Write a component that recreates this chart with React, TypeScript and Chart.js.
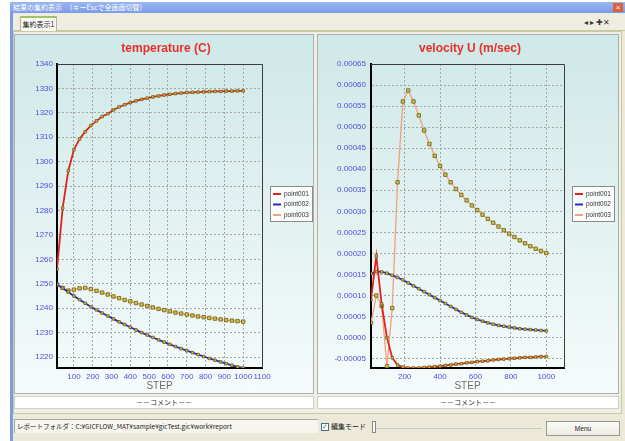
import React, { useEffect, useRef } from "react";
import { Chart, registerables } from "chart.js";

Chart.register(...registerables);

// ---------- data ----------
const steps = [10, 40, 70, 100, 130, 160, 190, 220, 250, 280, 310, 340, 370, 400, 430, 460, 490, 520, 550, 580, 610, 640, 670, 700, 730, 760, 790, 820, 850, 880, 910, 940, 970, 1000];

const seriesNames = ["point001", "point002", "point003"];
const seriesColors = ["#e4221d", "#2a2ac4", "#f3a07c"];

const tempPoint001 = [1256.0, 1281.0, 1296.3, 1304.9, 1309.3, 1312.3, 1314.8, 1316.7, 1318.5, 1319.6, 1321.2, 1322.4, 1323.3, 1324.2, 1324.9, 1325.5, 1326.0, 1326.5, 1326.9, 1327.3, 1327.6, 1327.9, 1328.1, 1328.3, 1328.4, 1328.5, 1328.6, 1328.7, 1328.8, 1328.8, 1328.9, 1328.9, 1329.0, 1329.0];
const tempPoint002 = [1249.7, 1248.2, 1246.6, 1245.0, 1243.5, 1242.0, 1240.6, 1239.3, 1238.0, 1236.8, 1235.6, 1234.4, 1233.3, 1232.2, 1231.1, 1230.0, 1229.0, 1228.0, 1227.0, 1226.1, 1225.2, 1224.3, 1223.4, 1222.6, 1221.8, 1221.0, 1220.2, 1219.4, 1218.7, 1218.0, 1217.3, 1216.6, 1216.0, 1215.5];
const tempPoint003 = [1249.7, 1248.3, 1247.2, 1247.6, 1248.1, 1248.3, 1247.8, 1247.1, 1246.4, 1245.6, 1244.8, 1244.1, 1243.4, 1242.8, 1242.1, 1241.5, 1240.9, 1240.3, 1239.7, 1239.2, 1238.7, 1238.2, 1237.8, 1237.4, 1237.0, 1236.6, 1236.3, 1236.0, 1235.7, 1235.4, 1235.1, 1234.9, 1234.7, 1234.5];

const velPoint001 = [9.0e-5, 19.4e-5, 8.0e-5, 0.0, -4.8e-5, -6.5e-5, -7.0e-5, -7.2e-5, -7.22e-5, -7.2e-5, -7.1e-5, -7.0e-5, -6.9e-5, -6.8e-5, -6.6e-5, -6.5e-5, -6.3e-5, -6.2e-5, -6.0e-5, -5.9e-5, -5.7e-5, -5.6e-5, -5.5e-5, -5.3e-5, -5.2e-5, -5.1e-5, -5.0e-5, -4.9e-5, -4.8e-5, -4.7e-5, -4.7e-5, -4.6e-5, -4.5e-5, -4.5e-5];
const velPoint002 = [15.2e-5, 15.7e-5, 15.6e-5, 15.3e-5, 14.8e-5, 14.3e-5, 13.7e-5, 13.0e-5, 12.3e-5, 11.6e-5, 10.9e-5, 10.2e-5, 9.5e-5, 8.8e-5, 8.1e-5, 7.4e-5, 6.7e-5, 6.0e-5, 5.4e-5, 4.8e-5, 4.3e-5, 3.9e-5, 3.5e-5, 3.2e-5, 2.9e-5, 2.7e-5, 2.5e-5, 2.3e-5, 2.1e-5, 2.0e-5, 1.9e-5, 1.8e-5, 1.7e-5, 1.6e-5];
const velPoint003 = [3.5e-5, 10.0e-5, 7.5e-5, -6.8e-5, 7.0e-5, 36.9e-5, 56.1e-5, 58.7e-5, 56.1e-5, 52.8e-5, 49.2e-5, 46.0e-5, 43.2e-5, 40.8e-5, 38.7e-5, 36.9e-5, 35.3e-5, 33.9e-5, 32.6e-5, 31.4e-5, 30.3e-5, 29.2e-5, 28.2e-5, 27.3e-5, 26.4e-5, 25.5e-5, 24.7e-5, 23.9e-5, 23.1e-5, 22.4e-5, 21.7e-5, 21.1e-5, 20.6e-5, 20.1e-5];

const tempYTicks = [1220, 1230, 1240, 1250, 1260, 1270, 1280, 1290, 1300, 1310, 1320, 1330, 1340];
const tempXTicks = [100, 200, 300, 400, 500, 600, 700, 800, 900, 1000, 1100];
const velYTicks = [-0.00005, 0, 0.00005, 0.0001, 0.00015, 0.0002, 0.00025, 0.0003, 0.00035, 0.0004, 0.00045, 0.0005, 0.00055, 0.0006, 0.00065];
const velXTicks = [200, 400, 600, 800, 1000];

// ---------- chart helpers ----------
const FONT = "Liberation Sans";

const framePlugin = {
  id: "frameTopRight",
  beforeDatasetsDraw(chart: any) {
    const { ctx, chartArea: a } = chart;
    ctx.save();
    ctx.strokeStyle = "#3c3c3c";
    ctx.lineWidth = 1;
    ctx.beginPath();
    ctx.moveTo(a.left, Math.floor(a.top) + 0.5);
    ctx.lineTo(Math.floor(a.right) + 0.5, Math.floor(a.top) + 0.5);
    ctx.lineTo(Math.floor(a.right) + 0.5, a.bottom);
    ctx.stroke();
    ctx.restore();
  },
};

const centeredTitlePlugin = {
  id: "centeredTitle",
  afterDraw(chart: any, _args: any, opts: any) {
    const { ctx, width } = chart;
    ctx.save();
    ctx.fillStyle = "#e8302a";
    ctx.font = `bold 12px "${FONT}"`;
    ctx.textAlign = "center";
    ctx.textBaseline = "middle";
    ctx.fillText(opts.text, width / 2 + 2, 13.5);
    ctx.restore();
  },
};

const boxLegendPlugin = {
  id: "boxLegend",
  afterDraw(chart: any) {
    const { ctx, chartArea: a } = chart;
    const x = Math.round(a.right) + 8;
    const y = 151;
    const w = 43;
    const h = 36;
    ctx.save();
    ctx.fillStyle = "#fbfdfd";
    ctx.fillRect(x, y, w, h);
    ctx.strokeStyle = "#8c8c8c";
    ctx.lineWidth = 1;
    ctx.strokeRect(x + 0.5, y + 0.5, w - 1, h - 1);
    chart.data.datasets.forEach((ds: any, i: number) => {
      const cy = y + 8 + i * 10.5;
      ctx.strokeStyle = ds.borderColor;
      ctx.lineWidth = 2;
      ctx.beginPath();
      ctx.moveTo(x + 3, cy);
      ctx.lineTo(x + 11, cy);
      ctx.stroke();
      ctx.fillStyle = "#333";
      ctx.font = `6.5px "${FONT}"`;
      ctx.textBaseline = "middle";
      ctx.fillText(ds.label, x + 14, cy);
    });
    ctx.restore();
  },
};

type Opts = {
  title: string;
  series: number[][];
  yMin: number;
  yMax: number;
  yTicks: number[];
  xTicks: number[];
  yFmt: (v: number) => string;
  yAxisWidth: number;
  yPad: number;
  rightPad: number;
};

function buildConfig(o: Opts): any {
  const datasets = o.series.map((vals, i) => ({
    label: seriesNames[i],
    data: steps.map((s, j) => ({ x: s, y: vals[j] })),
    borderColor: seriesColors[i],
    backgroundColor: seriesColors[i],
    borderWidth: i === 2 ? 1.3 : 1.8,
    pointStyle: "rect",
    pointRadius: i === 2 ? 2.4 : 1.8,
    pointBackgroundColor: "#d2c446",
    pointBorderColor: "#6a5a16",
    pointBorderWidth: 0.8,
    tension: 0,
    fill: false,
  }));
  const gridCommon = { color: "#a6a6a6", lineWidth: 1, drawTicks: false, borderDash: [2, 2] };
  const borderCommon = { display: true, color: "#000", width: 2, dash: [2, 2] };
  return {
    type: "line",
    data: { datasets },
    options: {
      animation: false,
      responsive: false,
      devicePixelRatio: 1,
      layout: { padding: { left: 0, top: 29, right: o.rightPad, bottom: 0 } },
      plugins: {
        legend: { display: false },
        tooltip: { enabled: false },
        title: { display: false },
        centeredTitle: { text: o.title },
      },
      scales: {
        x: {
          type: "linear",
          min: 10,
          max: 1100,
          afterBuildTicks: (axis: any) => {
            axis.ticks = o.xTicks.map((v) => ({ value: v }));
          },
          afterFit: (axis: any) => {
            axis.height = 25;
          },
          ticks: {
            autoSkip: false,
            maxRotation: 0,
            minRotation: 0,
            padding: 4,
            color: "#5050e0",
            font: { family: FONT, size: 8 },
            callback: (v: any) => String(v),
          },
          title: {
            display: true,
            text: "STEP",
            color: "#6c6c6c",
            font: { family: FONT, size: 10 },
            padding: { top: 0, bottom: 1 },
          },
          grid: gridCommon,
          border: borderCommon,
        },
        y: {
          type: "linear",
          min: o.yMin,
          max: o.yMax,
          afterBuildTicks: (axis: any) => {
            axis.ticks = o.yTicks.map((v) => ({ value: v }));
          },
          afterFit: (axis: any) => {
            axis.width = o.yAxisWidth;
          },
          ticks: {
            padding: o.yPad,
            color: "#5050e0",
            font: { family: FONT, size: 8 },
            callback: (v: any) => o.yFmt(Number(v)),
          },
          grid: gridCommon,
          border: borderCommon,
        },
      },
    },
    plugins: [framePlugin, boxLegendPlugin, centeredTitlePlugin],
  };
}

function ChartCanvas(props: { make: () => any; left: number; top: number; width: number; height: number }) {
  const ref = useRef<HTMLCanvasElement>(null);
  useEffect(() => {
    const chart = new Chart(ref.current as HTMLCanvasElement, props.make());
    return () => chart.destroy();
  }, []);
  return (
    <canvas
      ref={ref}
      width={props.width}
      height={props.height}
      style={{ position: "absolute", left: props.left, top: props.top, width: props.width, height: props.height }}
    />
  );
}

const makeTemp = () =>
  buildConfig({
    title: "temperature (C)",
    series: [tempPoint001, tempPoint002, tempPoint003],
    yMin: 1215.5,
    yMax: 1340,
    yTicks: tempYTicks,
    xTicks: tempXTicks,
    yFmt: (v) => String(Math.round(v)),
    yAxisWidth: 42,
    yPad: 4,
    rightPad: 51,
  });

const makeVel = () =>
  buildConfig({
    title: "velocity U (m/sec)",
    series: [velPoint001, velPoint002, velPoint003],
    yMin: -0.0000722,
    yMax: 0.00065,
    yTicks: velYTicks,
    xTicks: velXTicks,
    yFmt: (v) => v.toFixed(5),
    yAxisWidth: 53,
    yPad: 5,
    rightPad: 54,
  });

const abs = (o: React.CSSProperties): React.CSSProperties => ({ position: "absolute", boxSizing: "border-box", ...o });
const JP = '"Noto Sans CJK JP", sans-serif';

export default function App() {
  const panelBg = "linear-gradient(180deg, #cfe8e8 0%, #e4f2f2 55%, #f6fbfb 100%)";
  return (
    <div style={{ position: "fixed", left: 0, top: 0, width: 625, height: 441, background: "#ffffff", overflow: "hidden", fontFamily: JP }}>
      {/* window body */}
      <div style={abs({ left: 10, top: 2, width: 615, height: 439, background: "#ece9d8" })} />
      <div style={abs({ left: 10, top: 2, width: 3, height: 439, background: "#7d9be0" })} />
      {/* title bar */}
      <div
        style={abs({
          left: 10,
          top: 2,
          width: 615,
          height: 11,
          background: "linear-gradient(180deg, #9ab6f2 0%, #7c9ce6 100%)",
          color: "#ffffff",
          fontSize: 7,
          lineHeight: "11px",
          paddingLeft: 3,
          whiteSpace: "nowrap",
        })}
      >
        結果の集約表示　（キーEscで全画面切替）
      </div>
      <div style={abs({ left: 613, top: 3, width: 10, height: 9, background: "#e0603e", color: "#fff", fontSize: 8, lineHeight: "9px", textAlign: "center", fontFamily: FONT })}>×</div>
      {/* tab strip */}
      <div style={abs({ left: 13, top: 13, width: 612, height: 18, background: "#efede0", borderBottom: "1px solid #c4c9a0" })} />
      <div
        style={abs({
          left: 20,
          top: 16,
          width: 37,
          height: 15,
          background: "#fbfaf2",
          border: "1px solid #b9b596",
          borderBottom: "none",
          borderTop: "2px solid #9cc46a",
          fontSize: 7,
          lineHeight: "12px",
          textAlign: "center",
          color: "#222",
          whiteSpace: "nowrap",
        })}
      >
        集約表示1
      </div>
      <div style={abs({ left: 584, top: 18, width: 40, height: 10, fontSize: 8, lineHeight: "10px", color: "#333", fontFamily: FONT, whiteSpace: "nowrap" })}>◂ ▸ ✚✕</div>
      {/* content frame */}
      <div style={abs({ left: 13, top: 31, width: 609, height: 383, background: "#f1efe4", border: "1px solid #c8cca6" })} />
      {/* panels */}
      <div style={abs({ left: 14, top: 34, width: 300, height: 360, background: panelBg, border: "1px solid #a9b0b0" })} />
      <div style={abs({ left: 317, top: 34, width: 302, height: 360, background: panelBg, border: "1px solid #a9b0b0" })} />
      <ChartCanvas make={makeTemp} left={15} top={35} width={298} height={358} />
      <ChartCanvas make={makeVel} left={318} top={35} width={300} height={358} />
      {/* comment bars */}
      <div style={abs({ left: 14, top: 396, width: 300, height: 13, background: "#ffffff", border: "1px solid #cfcfcf", fontSize: 7, lineHeight: "11px", textAlign: "center", color: "#333" })}>－－コメント－－</div>
      <div style={abs({ left: 317, top: 396, width: 302, height: 13, background: "#ffffff", border: "1px solid #cfcfcf", fontSize: 7, lineHeight: "11px", textAlign: "center", color: "#333" })}>－－コメント－－</div>
      {/* status bar */}
      <div
        style={abs({
          left: 14,
          top: 419,
          width: 304,
          height: 14,
          background: "#f6f5ee",
          borderTop: "1px solid #a8a8a0",
          borderLeft: "1px solid #a8a8a0",
          fontSize: 6.5,
          lineHeight: "13px",
          color: "#222",
          paddingLeft: 2,
          whiteSpace: "nowrap",
          overflow: "hidden",
        })}
      >
        レポートフォルダ：C:¥GICFLOW_MAT¥sample¥gicTest.gic¥work¥report
      </div>
      <div style={abs({ left: 321, top: 423, width: 8, height: 8, background: "#fff", border: "1px solid #4a6a9a", fontSize: 7, lineHeight: "6px", textAlign: "center", color: "#2a8a2a", fontFamily: FONT })}>✓</div>
      <div style={abs({ left: 331, top: 420, width: 40, height: 13, fontSize: 7, lineHeight: "13px", color: "#222", whiteSpace: "nowrap" })}>編集モード</div>
      <div style={abs({ left: 372, top: 421, width: 4, height: 12, background: "#f8f8f4", border: "1px solid #8a8a8a" })} />
      <div style={abs({ left: 376, top: 428, width: 166, height: 1, background: "#c8c8c0" })} />
      <div
        style={abs({
          left: 546,
          top: 421,
          width: 74,
          height: 15,
          background: "linear-gradient(180deg, #fbfbf8, #ecebe3)",
          border: "1px solid #9a9a94",
          fontSize: 6.5,
          lineHeight: "13px",
          textAlign: "center",
          color: "#222",
          fontFamily: FONT,
        })}
      >
        Menu
      </div>
    </div>
  );
}
